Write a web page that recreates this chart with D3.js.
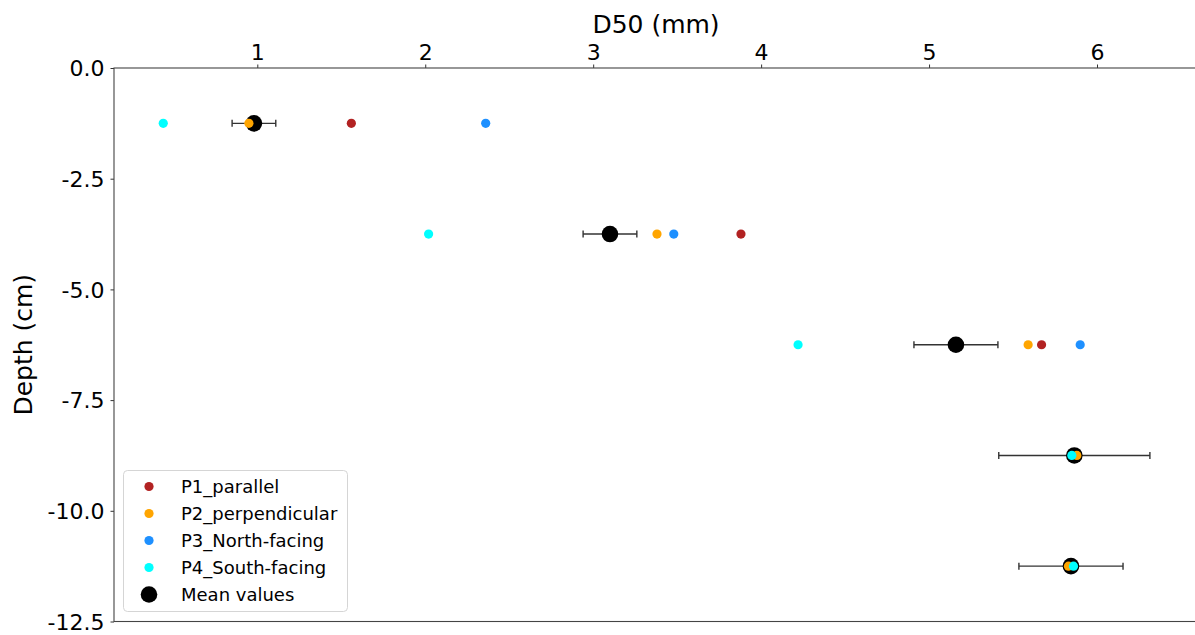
<!DOCTYPE html>
<html><head><meta charset="utf-8">
<script src="https://cdn.jsdelivr.net/npm/d3@7"></script>
<style>body{margin:0;background:#fff}svg{display:block;font-family:"DejaVu Sans",sans-serif}</style>
</head><body><svg id="c" width="1195" height="635"></svg>
<script>
const depths = [-1.25, -3.75, -6.25, -8.75, -11.25];
const p1 = [1.56, 3.88, 5.67, null, null];
const p2 = [0.95, 3.38, 5.59, 5.88, 5.83];
const p3 = [2.36, 3.48, 5.90, null, null];
const p4 = [0.44, 2.02, 4.22, 5.85, 5.86];
const meanVals = [0.98, 3.10, 5.16, 5.865, 5.845];
const errVals = [0.13, 0.16, 0.25, 0.45, 0.31];
const xTicks = [1, 2, 3, 4, 5, 6];
const yTicks = [0, -2.5, -5, -7.5, -10, -12.5];
const seriesNames = ["P1_parallel", "P2_perpendicular", "P3_North-facing", "P4_South-facing"];
const seriesColors = ["#b22222", "#ffa500", "#1e90ff", "#00ffff"];

(function () {
const svg = d3.select("#c");
const mL = 114, mT = 68, mB = 621.5, mR = 1230;
const x = d3.scaleLinear().domain([1, 6]).range([257.3, 1097]);
const y = d3.scaleLinear().domain([0, -12.5]).range([mT, mB]);

// axes
const xAxis = d3.axisTop(x).tickValues(xTicks).tickFormat(d3.format("d")).tickSize(3.5).tickPadding(5);
const gx = svg.append("g").attr("transform", `translate(0,${mT})`).call(xAxis);
gx.select(".domain").remove();
gx.selectAll("text").attr("font-size", 22).attr("fill", "#000").attr("font-family", "DejaVu Sans");
gx.selectAll("line").attr("stroke", "#333");

const yAxis = d3.axisLeft(y).tickValues(yTicks).tickFormat(d => d.toFixed(1)).tickSize(3.5).tickPadding(6);
const gy = svg.append("g").attr("transform", `translate(${mL},0)`).call(yAxis);
gy.select(".domain").remove();
gy.selectAll("text").attr("font-size", 22).attr("fill", "#000").attr("font-family", "DejaVu Sans").attr("dy", "0.35em");
gy.selectAll("line").attr("stroke", "#333");

// spines
svg.append("rect").attr("x", mL).attr("y", mT).attr("width", mR - mL).attr("height", mB - mT)
  .attr("fill", "none").attr("stroke", "#444").attr("stroke-width", 1.1);

// labels
svg.append("text").attr("x", 656).attr("y", 33).attr("text-anchor", "middle").attr("font-size", 25).text("D50 (mm)");
svg.append("text").attr("transform", `translate(32,${(mT + mB) / 2}) rotate(-90)`).attr("text-anchor", "middle")
  .attr("font-size", 25).text("Depth (cm)");

// error bars + means
const rows = depths.map((d, i) => ({ d, m: meanVals[i], e: errVals[i] }));
const eb = svg.append("g").attr("stroke", "#333").attr("stroke-width", 1.4);
rows.forEach(r => {
  eb.append("line").attr("x1", x(r.m - r.e)).attr("x2", x(r.m + r.e)).attr("y1", y(r.d)).attr("y2", y(r.d));
  [r.m - r.e, r.m + r.e].forEach(v => eb.append("line").attr("x1", x(v)).attr("x2", x(v)).attr("y1", y(r.d) - 3.5).attr("y2", y(r.d) + 3.5));
});
svg.append("g").selectAll("circle").data(rows).join("circle")
  .attr("cx", r => x(r.m)).attr("cy", r => y(r.d)).attr("r", 8.3).attr("fill", "#000");

// series points
[p1, p2, p3, p4].forEach((s, k) => {
  svg.append("g").selectAll("circle").data(s.map((v, i) => ({ v, d: depths[i] })).filter(p => p.v !== null)).join("circle")
    .attr("cx", p => x(p.v)).attr("cy", p => y(p.d)).attr("r", 4.6).attr("fill", seriesColors[k]);
});

// legend
const lg = svg.append("g");
lg.append("rect").attr("x", 123.5).attr("y", 470.5).attr("width", 224).attr("height", 141).attr("rx", 4)
  .attr("fill", "#fff").attr("fill-opacity", 0.8).attr("stroke", "#d5d5d5");
const ly0 = 486.5, lstep = 27;
seriesNames.forEach((n, k) => {
  lg.append("circle").attr("cx", 149).attr("cy", ly0 + k * lstep).attr("r", 4.6).attr("fill", seriesColors[k]);
  lg.append("text").attr("x", 181).attr("y", ly0 + k * lstep).attr("dy", "0.35em").attr("font-size", 18).text(n);
});
lg.append("circle").attr("cx", 149).attr("cy", ly0 + 4 * lstep).attr("r", 8.3).attr("fill", "#000");
lg.append("text").attr("x", 181).attr("y", ly0 + 4 * lstep).attr("dy", "0.35em").attr("font-size", 18).text("Mean values");
})();
</script></body></html>
